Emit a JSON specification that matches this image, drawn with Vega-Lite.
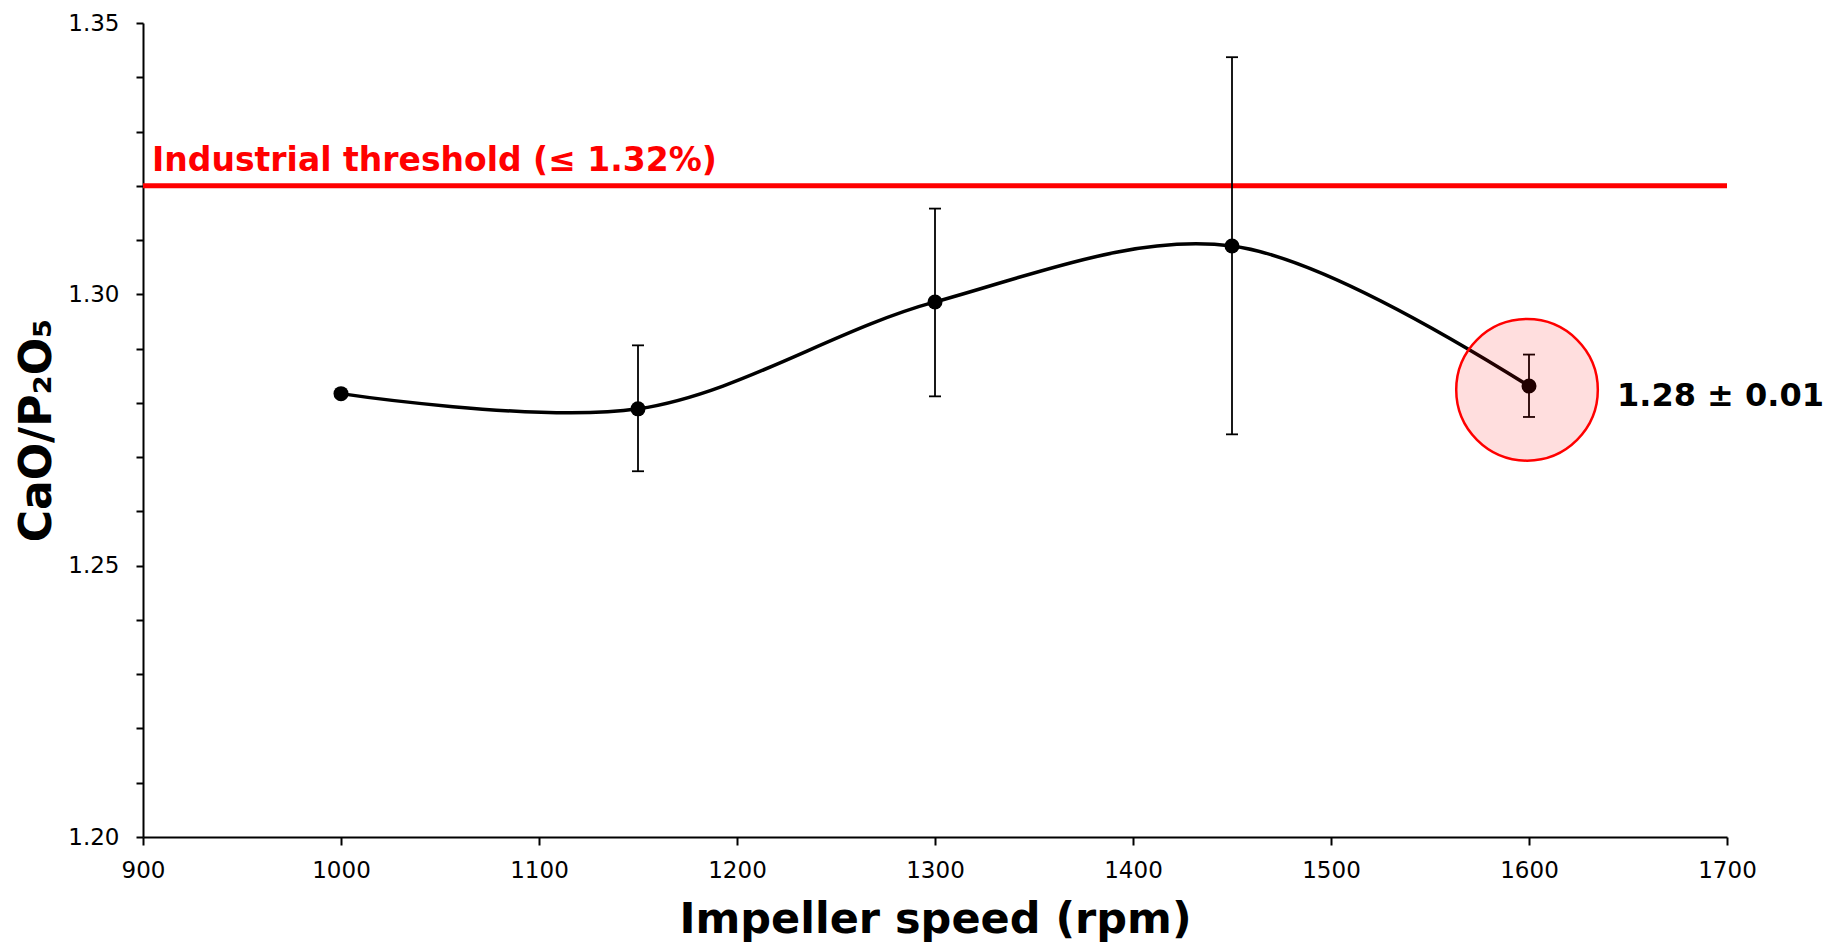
{
  "$schema": "https://vega.github.io/schema/vega-lite/v6.json",
  "width": 1584,
  "height": 814,
  "autosize": {"type": "none"},
  "padding": {"left": 143, "top": 23, "right": 100, "bottom": 106},
  "background": "white",
  "config": {
    "view": {"stroke": null},
    "font": "DejaVu Sans",
    "axis": {
      "domainColor": "black", "domainWidth": 2, "tickColor": "black", "tickWidth": 2,
      "labelColor": "black", "labelFont": "DejaVu Sans", "labelFontSize": 23,
      "titleFont": "DejaVu Sans", "titleFontWeight": "bold", "titleColor": "black", "grid": false
    }
  },
  "datasets": {
    "pts": [
      {"speed": 1000, "ratio": 1.2817, "lo": null, "hi": null},
      {"speed": 1150, "ratio": 1.2789, "lo": 1.2674, "hi": 1.2906},
      {"speed": 1300, "ratio": 1.2986, "lo": 1.2812, "hi": 1.3158},
      {"speed": 1450, "ratio": 1.3089, "lo": 1.2742, "hi": 1.3437},
      {"speed": 1600, "ratio": 1.2831, "lo": 1.2774, "hi": 1.2889}
    ],
    "threshold": [{"speed0": 900, "speed1": 1700, "value": 1.32, "label": "Industrial threshold (≤ 1.32%)"}],
    "highlight": [{"speed": 1599, "ratio": 1.2824, "label": "1.28 ± 0.01"}]
  },
  "layer": [
    {
      "data": {"name": "pts"},
      "mark": {"type": "line", "interpolate": "catmull-rom", "color": "black", "strokeWidth": 3.5},
      "encoding": {
        "x": {"field": "speed", "type": "quantitative", "title": "Impeller speed (rpm)",
          "scale": {"domain": [900, 1700], "nice": false, "zero": false},
          "axis": {"title": "Impeller speed (rpm)", "titleFontSize": 43, "values": [900, 1000, 1100, 1200, 1300, 1400, 1500, 1600, 1700],
            "format": "d", "tickSize": 8, "labelPadding": 14, "labelFlush": false, "titleX": 792, "titleY": 95, "titleBaseline": "alphabetic", "titleAlign": "center"}},
        "y": {"field": "ratio", "type": "quantitative", "title": "CaO/P₂O₅",
          "scale": {"domain": [1.2, 1.35], "nice": false, "zero": false},
          "axis": {"title": "CaO/P₂O₅", "titleFontSize": 44,
            "values": [1.2, 1.21, 1.22, 1.23, 1.24, 1.25, 1.26, 1.27, 1.28, 1.29, 1.3, 1.31, 1.32, 1.33, 1.34, 1.35],
            "labelExpr": "abs(datum.value*20 - round(datum.value*20)) < 0.01 ? format(datum.value, '.2f') : ''",
            "tickSize": 7, "labelPadding": 17, "labelFlush": false,
            "titleAngle": -90, "titleX": -93, "titleY": 407, "titleBaseline": "alphabetic", "titleAlign": "center"}}
      }
    },
    {
      "data": {"name": "threshold"},
      "mark": {"type": "rule", "color": "#ff0000", "strokeWidth": 5},
      "encoding": {
        "x": {"field": "speed0", "type": "quantitative", "title": "Impeller speed (rpm)"},
        "x2": {"field": "speed1"},
        "y": {"field": "value", "type": "quantitative", "title": "CaO/P₂O₅"}
      }
    },
    {
      "data": {"name": "threshold"},
      "mark": {"type": "text", "color": "#ff0000", "fontSize": 33, "fontWeight": "bold", "align": "left", "baseline": "alphabetic", "dx": 9, "dy": -15},
      "encoding": {
        "x": {"field": "speed0", "type": "quantitative", "title": "Impeller speed (rpm)"},
        "y": {"field": "value", "type": "quantitative", "title": "CaO/P₂O₅"},
        "text": {"field": "label"}
      }
    },
    {
      "data": {"name": "pts"},
      "transform": [{"filter": "datum.lo != null"}],
      "mark": {"type": "rule", "color": "black", "strokeWidth": 1.8},
      "encoding": {
        "x": {"field": "speed", "type": "quantitative", "title": "Impeller speed (rpm)"},
        "y": {"field": "lo", "type": "quantitative", "title": "CaO/P₂O₅"},
        "y2": {"field": "hi"}
      }
    },
    {
      "data": {"name": "pts"},
      "transform": [{"filter": "datum.lo != null"}],
      "mark": {"type": "tick", "orient": "horizontal", "color": "black", "size": 12, "thickness": 1.8, "opacity": 1},
      "encoding": {
        "x": {"field": "speed", "type": "quantitative", "title": "Impeller speed (rpm)"},
        "y": {"field": "lo", "type": "quantitative", "title": "CaO/P₂O₅"}
      }
    },
    {
      "data": {"name": "pts"},
      "transform": [{"filter": "datum.hi != null"}],
      "mark": {"type": "tick", "orient": "horizontal", "color": "black", "size": 12, "thickness": 1.8, "opacity": 1},
      "encoding": {
        "x": {"field": "speed", "type": "quantitative", "title": "Impeller speed (rpm)"},
        "y": {"field": "hi", "type": "quantitative", "title": "CaO/P₂O₅"}
      }
    },
    {
      "data": {"name": "pts"},
      "mark": {"type": "point", "shape": "circle", "filled": true, "color": "black", "size": 225, "opacity": 1},
      "encoding": {
        "x": {"field": "speed", "type": "quantitative", "title": "Impeller speed (rpm)"},
        "y": {"field": "ratio", "type": "quantitative", "title": "CaO/P₂O₅"}
      }
    },
    {
      "data": {"name": "highlight"},
      "mark": {"type": "point", "shape": "circle", "fill": "#ff0000", "fillOpacity": 0.13, "stroke": "#ff0000", "strokeWidth": 2.5, "strokeOpacity": 1, "size": 20050, "opacity": 1},
      "encoding": {
        "x": {"field": "speed", "type": "quantitative", "title": "Impeller speed (rpm)"},
        "y": {"field": "ratio", "type": "quantitative", "title": "CaO/P₂O₅"}
      }
    },
    {
      "data": {"name": "highlight"},
      "mark": {"type": "text", "color": "black", "fontSize": 32, "fontWeight": "bold", "align": "left", "baseline": "middle", "dx": 90, "dy": 6},
      "encoding": {
        "x": {"field": "speed", "type": "quantitative", "title": "Impeller speed (rpm)"},
        "y": {"field": "ratio", "type": "quantitative", "title": "CaO/P₂O₅"},
        "text": {"field": "label"}
      }
    }
  ]
}
